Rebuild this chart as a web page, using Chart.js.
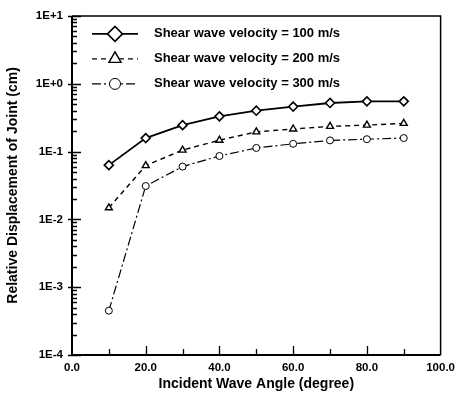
<!DOCTYPE html>
<html>
<head>
<meta charset="utf-8">
<script src="https://cdn.jsdelivr.net/npm/chart.js@4.4.1/dist/chart.umd.min.js"></script>
<style>
  html, body { margin: 0; padding: 0; background: #fff; }
  #wrap { width: 461px; height: 399px; }
</style>
</head>
<body>
<div id="wrap"><canvas id="c" width="461" height="399"></canvas></div>
<script>
const angles = [10, 20, 30, 40, 50, 60, 70, 80, 90];
const seriesLabels = [
  'Shear wave velocity = 100 m/s',
  'Shear wave velocity = 200 m/s',
  'Shear wave velocity = 300 m/s'
];
const disp100 = [0.063, 0.158, 0.245, 0.33, 0.40, 0.46, 0.52, 0.55, 0.55];
const disp200 = [0.0148, 0.062, 0.105, 0.147, 0.195, 0.215, 0.235, 0.245, 0.26];
const disp300 = [0.00045, 0.031, 0.060, 0.086, 0.113, 0.130, 0.146, 0.152, 0.158];
const yDecades = [1e-4, 1e-3, 1e-2, 1e-1, 1, 10];
const yTickLabels = ['1E-4', '1E-3', '1E-2', '1E-1', '1E+0', '1E+1'];
const xTickValues = [0, 20, 40, 60, 80, 100];
const xTickLabels = ['0.0', '20.0', '40.0', '60.0', '80.0', '100.0'];

const FONT = "'Liberation Sans', Arial, sans-serif";

function toPts(vals) { return angles.map((a, i) => ({ x: a, y: vals[i] })); }

const datasets = [
  { label: seriesLabels[0], data: toPts(disp100), borderColor: '#000', backgroundColor: '#fff',
    borderWidth: 1.8, borderDash: [], pointStyle: 'rectRot', pointRadius: 4.5, pointBorderWidth: 1.6,
    legendRadius: 7.5 },
  { label: seriesLabels[1], data: toPts(disp200), borderColor: '#000', backgroundColor: '#fff',
    borderWidth: 1.4, borderDash: [5, 4], pointStyle: 'triangle', pointRadius: 4, pointBorderWidth: 1.4,
    legendRadius: 7 },
  { label: seriesLabels[2], data: toPts(disp300), borderColor: '#000', backgroundColor: '#fff',
    borderWidth: 1.2, borderDash: [9, 3, 2, 3], pointStyle: 'circle', pointRadius: 3.5, pointBorderWidth: 1,
    legendRadius: 5.5 }
];

const boxTicks = {
  id: 'boxTicks',
  afterDraw(chart) {
    const ctx = chart.ctx;
    const a = chart.chartArea;
    const xs = chart.scales.x, ys = chart.scales.y;
    ctx.save();
    ctx.strokeStyle = '#000';
    ctx.lineWidth = 1.5;
    ctx.beginPath();
    ctx.moveTo(a.left, a.top); ctx.lineTo(a.right, a.top); ctx.lineTo(a.right, a.bottom);
    ctx.stroke();
    ctx.lineWidth = 2;
    ctx.beginPath();
    ctx.moveTo(a.left, a.top); ctx.lineTo(a.left, a.bottom); ctx.lineTo(a.right, a.bottom);
    ctx.stroke();
    // y ticks
    ctx.lineWidth = 1.3;
    ctx.beginPath();
    for (let d = 0; d < yDecades.length; d++) {
      const dec = yDecades[d];
      const py = Math.round(ys.getPixelForValue(dec)) + 0.5;
      ctx.moveTo(a.left - 4, py); ctx.lineTo(a.left + 9, py);
      if (d < yDecades.length - 1) {
        for (let m = 2; m <= 9; m++) {
          const pm = Math.round(ys.getPixelForValue(dec * m)) + 0.5;
          ctx.moveTo(a.left, pm); ctx.lineTo(a.left + 5, pm);
        }
      }
    }
    ctx.stroke();
    // x ticks
    ctx.beginPath();
    for (let v = 10; v < 100; v += 10) {
      const px = Math.round(xs.getPixelForValue(v)) + 0.5;
      const len = (v % 20 === 0) ? 9 : 6;
      ctx.moveTo(px, a.bottom); ctx.lineTo(px, a.bottom - len);
    }
    ctx.stroke();
    // legend
    const lx0 = a.left + 20, lx1 = a.left + 66, tx = a.left + 82;
    const rowY = [a.top + 18, a.top + 43, a.top + 68];
    ctx.font = "bold 13px " + FONT;
    ctx.textBaseline = 'middle';
    ctx.textAlign = 'left';
    chart.data.datasets.forEach((ds, i) => {
      const y = rowY[i];
      ctx.strokeStyle = '#000';
      ctx.lineWidth = ds.borderWidth;
      ctx.setLineDash(ds.borderDash);
      ctx.beginPath(); ctx.moveTo(lx0, y); ctx.lineTo(lx1, y); ctx.stroke();
      ctx.setLineDash([]);
      ctx.fillStyle = '#fff';
      ctx.lineWidth = ds.pointBorderWidth;
      Chart.helpers.drawPoint(ctx, { pointStyle: ds.pointStyle, radius: ds.legendRadius, borderWidth: ds.pointBorderWidth, rotation: 0 }, (lx0 + lx1) / 2, y);
      ctx.fillStyle = '#000';
      ctx.fillText(ds.label, tx, y);
    });
    ctx.restore();
  }
};

new Chart(document.getElementById('c'), {
  type: 'line',
  data: { datasets },
  options: {
    responsive: false,
    animation: false,
    devicePixelRatio: 1,
    layout: { padding: { left: 0, right: 17, top: 11, bottom: 0 } },
    plugins: { legend: { display: false }, tooltip: { enabled: false } },
    elements: { line: { tension: 0 } },
    scales: {
      x: {
        type: 'linear', min: 0, max: 100,
        afterBuildTicks(s) { s.ticks = xTickValues.map(v => ({ value: v })); },
        afterFit(s) { s.height = 44; },
        ticks: {
          callback(v) { const i = xTickValues.indexOf(v); return i >= 0 ? xTickLabels[i] : ''; },
          font: { family: FONT, size: 11.5, weight: 'bold' }, color: '#000', padding: 6, maxRotation: 0, autoSkip: false
        },
        grid: { display: false, drawTicks: false },
        border: { display: false },
        title: { display: true, text: 'Incident Wave Angle (degree)', color: '#000',
          font: { family: FONT, size: 14, weight: 'bold' }, padding: { top: 0, bottom: 6 } }
      },
      y: {
        type: 'logarithmic', min: 1e-4, max: 10,
        afterBuildTicks(s) { s.ticks = yDecades.map(v => ({ value: v })); },
        afterFit(s) { s.width = 72; },
        ticks: {
          callback(v) { const i = yDecades.findIndex(d => Math.abs(Math.log10(d) - Math.log10(v)) < 1e-6); return i >= 0 ? yTickLabels[i] : ''; },
          font: { family: FONT, size: 11.5, weight: 'bold' }, color: '#000', padding: 9, autoSkip: false
        },
        grid: { display: false, drawTicks: false },
        border: { display: false },
        title: { display: true, text: 'Relative Displacement of Joint (cm)', color: '#000',
          font: { family: FONT, size: 14, weight: 'bold' }, padding: { top: 5, bottom: 0 } }
      }
    }
  },
  plugins: [boxTicks]
});
</script>
</body>
</html>
